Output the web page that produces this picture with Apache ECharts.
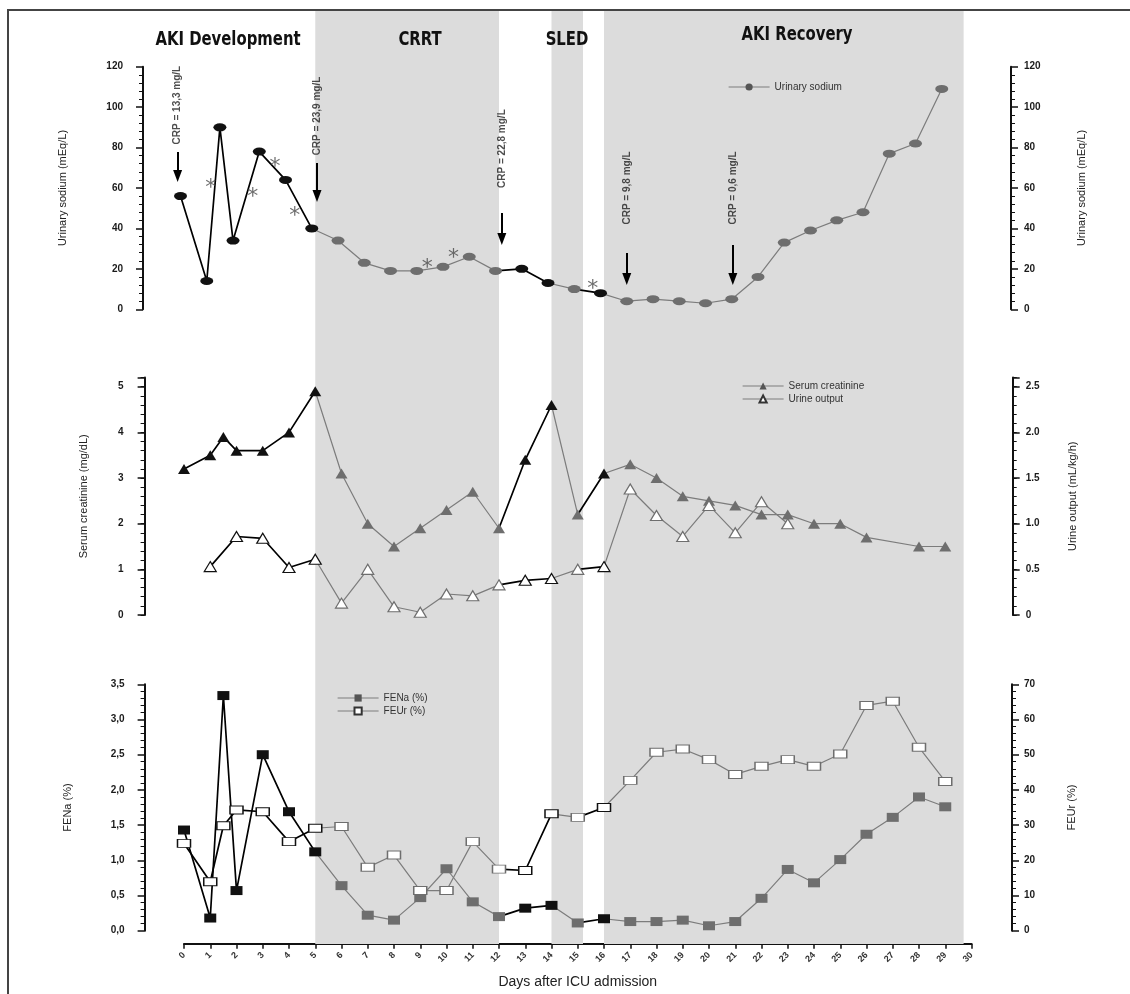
<!DOCTYPE html>
<html><head><meta charset="utf-8">
<script src="https://cdn.jsdelivr.net/npm/echarts@6/dist/echarts.min.js"></script>
<style>html,body{margin:0;padding:0;background:#fff}#c{width:1130px;height:994px}</style>
</head><body><div id="c"></div>
<script>
// ---------------- data ----------------
const phaseNames = ['CRRT', 'SLED', 'AKI Recovery'];
const phaseStart = [5, 14, 16];
const phaseEnd = [12, 15.2, 29.7];

const sodiumDays = [0,1,1.5,2,3,4,5,6,7,8,9,10,11,12,13,14,15,16,17,18,19,20,21,22,23,24,25,26,27,28,29];
const urinarySodium = [56,14,90,34,78,64,40,34,23,19,19,21,26,19,20,13,10,8,4,5,4,3,5,16,33,39,44,48,77,82,109];

const creatDays = [0,1,1.5,2,3,4,5,6,7,8,9,10,11,12,13,14,15,16,17,18,19,20,21,22,23,24,25,26,28,29];
const serumCreatinine = [3.2,3.5,3.9,3.6,3.6,4.0,4.9,3.1,2.0,1.5,1.9,2.3,2.7,1.9,3.4,4.6,2.2,3.1,3.3,3.0,2.6,2.5,2.4,2.2,2.2,2.0,2.0,1.7,1.5,1.5];

const urineDays = [1,2,3,4,5,6,7,8,9,10,11,12,13,14,15,16,17,18,19,20,21,22,23];
const urineOutput = [0.53,0.86,0.84,0.52,0.61,0.13,0.5,0.09,0.03,0.23,0.21,0.33,0.38,0.4,0.5,0.53,1.38,1.09,0.86,1.2,0.9,1.24,1.0];

const feDays = [0,1,1.5,2,3,4,5,6,7,8,9,10,11,12,13,14,15,16,17,18,19,20,21,22,23,24,25,26,27,28,29];
const fena = [1.43,0.18,3.34,0.57,2.50,1.69,1.12,0.64,0.22,0.15,0.47,0.88,0.41,0.20,0.32,0.36,0.11,0.17,0.13,0.13,0.15,0.07,0.13,0.46,0.87,0.68,1.01,1.37,1.61,1.90,1.76];
const feur = [24.8,13.9,29.8,34.3,33.8,25.3,29.1,29.6,18.0,21.5,11.4,11.4,25.3,17.5,17.1,33.2,32.2,35.0,42.7,50.7,51.6,48.6,44.4,46.7,48.6,46.7,50.2,64.0,65.2,52.1,42.4];

// day ranges drawn with dark lines, and days with dark markers
const blackSegments = [[0,5],[12,14],[15,16]];
const darkMarkerDays = [0,1,1.5,2,3,4,5,13,14,16];

// asterisks (day, urinary sodium level)
const asteriskDays = [1.15,2.75,3.6,4.35,9.4,10.4,15.7];
const asteriskVals = [63,58.6,73,48.8,23.2,28,13.1];

// CRP annotations (day, label level, arrow start / end level)
const crpDays = [-0.11,5.2,12.24,17.0,21.04];
const crpLabels = ['CRP = 13,3 mg/L','CRP = 23,9 mg/L','CRP = 22,8 mg/L','CRP = 9,8 mg/L','CRP = 0,6 mg/L'];
const crpLabelLevel = [101,95.6,79.5,60,60];
const crpArrowFrom = [77.8,72.4,47.6,27.8,31.8];
const crpArrowTo = [65.9,56.0,34.8,15.0,15.0];

// axis ranges
const dayMin = 0, dayMax = 30, topDayMin = -0.5;
const sodiumAxis = {min:0, max:120, interval:20};
const creatAxis = {min:0, max:5.2, interval:1, top:5};
const urineAxis = {min:0, max:2.6, interval:0.5, top:2.5};
const fenaAxis = {min:0, max:3.5, interval:0.5};
const feurAxis = {min:0, max:70, interval:10};

// ---------------- helpers ----------------
const DARK = '#111', GRAY = '#6e6e6e', GRAY_LINE = '#7c7c7c';
function isBlack(a, b) { return blackSegments.some(s => a >= s[0] && b <= s[1]); }
function segData(days, vals, wantBlack) {
  const out = []; let last = -1;
  for (let i = 0; i < days.length - 1; i++) {
    if (isBlack(days[i], days[i + 1]) !== wantBlack) continue;
    if (last !== i) {
      if (out.length) out.push([(days[last] + days[i]) / 2, '-']);
      out.push([days[i], vals[i]]);
    }
    out.push([days[i + 1], vals[i + 1]]);
    last = i + 1;
  }
  return out;
}
function markerColor(d) { return darkMarkerDays.includes(d) ? DARK : GRAY; }
function trio(name, days, vals, xi, yi, symbol, size, open) {
  const base = {type:'line', xAxisIndex:xi, yAxisIndex:yi, symbol:'none', silent:true, connectNulls:false, animation:false};
  return [
    Object.assign({}, base, {name: name + ' _g', z:2, lineStyle:{color:GRAY_LINE, width:1.2}, data: segData(days, vals, false)}),
    Object.assign({}, base, {name: name + ' _b', z:3, lineStyle:{color:'#000', width:1.7}, data: segData(days, vals, true)}),
    {name, type:'line', xAxisIndex:xi, yAxisIndex:yi, z:4, symbol, symbolSize:size, showAllSymbol:true, silent:true,
     lineStyle:{width:0, opacity:0},
     itemStyle: open ? {color:'#fff', borderColor:'#333', borderWidth:1} : {color:'#555'},
     data: days.map((d, i) => ({value:[d, vals[i]],
       itemStyle: open ? {color:'#fff', borderColor:markerColor(d), borderWidth:1.2} : {color:markerColor(d)}}))}
  ];
}
function yax(o) {
  return Object.assign({
    type:'value', nameLocation:'middle', nameRotate:90,
    nameTextStyle:{fontSize:11, color:'#222', fontFamily:'Liberation Sans'},
    axisLine:{show:true, onZero:false, lineStyle:{color:'#111', width:2}},
    axisTick:{show:true, length:7, lineStyle:{color:'#111', width:1.5}},
    minorTick:{show:true, splitNumber:5, length:4, lineStyle:{color:'#111', width:1}},
    splitLine:{show:false},
    axisLabel:{fontSize:10, fontWeight:'bold', color:'#1a1a1a', fontFamily:'Liberation Sans'}
  }, o);
}
const hiddenX = (gi, mn) => ({type:'value', gridIndex:gi, min:mn, max:dayMax, show:false});
const legendBase = {itemWidth:41, itemHeight:9, itemGap:3, orient:'vertical', selectedMode:false,
  textStyle:{fontSize:10, color:'#333', fontFamily:'Liberation Sans'},
  lineStyle:{color:GRAY_LINE, width:1.2, opacity:1}};
const titleFont = 'bold 19px "Liberation Sans Narrow", "DejaVu Sans Condensed", sans-serif';
const titleText = (t, x, y) => ({type:'text', x, y, scaleX:0.87, z:10,
  style:{text:t, align:'center', verticalAlign:'middle', font:titleFont, fill:'#111'}});

// ---------------- option ----------------
const option = {
  animation:false,
  backgroundColor:'#fff',
  textStyle:{fontFamily:'Liberation Sans'},
  grid:[
    {left:184, right:158.5, top:10, bottom:50},
    {left:167.4, right:162, top:66.7, height:242.6},
    {left:184, right:158.5, top:377.6, height:237.4},
    {left:184, right:158.5, top:684.3, height:246.4}
  ],
  xAxis:[
    hiddenX(0, dayMin), hiddenX(1, topDayMin), hiddenX(2, dayMin),
    {type:'value', gridIndex:3, min:dayMin, max:dayMax, interval:1, offset:13,
     axisLine:{onZero:false, lineStyle:{color:'#111', width:2}},
     axisTick:{length:5, lineStyle:{color:'#111', width:1.5}},
     splitLine:{show:false},
     axisLabel:{rotate:45, fontSize:9, fontWeight:'bold', color:'#333', margin:10},
     name:'Days after ICU admission', nameLocation:'middle', nameGap:31,
     nameTextStyle:{fontSize:14, color:'#222', fontFamily:'Liberation Sans'}}
  ],
  yAxis:[
    {type:'value', gridIndex:0, min:0, max:1, show:false},
    yax({gridIndex:1, position:'left', offset:24.4, min:sodiumAxis.min, max:sodiumAxis.max, interval:sodiumAxis.interval,
         name:'Urinary sodium (mEq/L)', nameGap:75, axisLabel:{fontSize:10, fontWeight:'bold', color:'#1a1a1a', margin:20}}),
    yax({gridIndex:1, position:'right', offset:43, min:sodiumAxis.min, max:sodiumAxis.max, interval:sodiumAxis.interval,
         name:'Urinary sodium (mEq/L)', nameGap:65, axisLabel:{fontSize:10, fontWeight:'bold', color:'#1a1a1a', margin:13}}),
    yax({gridIndex:2, position:'left', offset:39.4, min:creatAxis.min, max:creatAxis.max, interval:creatAxis.interval,
         minorTick:{show:false},
         name:'Serum creatinine (mg/dL)', nameGap:55,
         axisLabel:{fontSize:10, fontWeight:'bold', color:'#1a1a1a', margin:21, formatter:v => v > creatAxis.top ? '' : String(v)}}),
    yax({gridIndex:2, position:'right', offset:41.2, min:urineAxis.min, max:urineAxis.max, interval:urineAxis.interval,
         minorTick:{show:false},
         name:'Urine output (mL/kg/h)', nameGap:55,
         axisLabel:{fontSize:10, fontWeight:'bold', color:'#1a1a1a', margin:13,
                    formatter:v => v > urineAxis.top ? '' : (v === 0 ? '0' : v.toFixed(1))}}),
    yax({gridIndex:3, position:'left', offset:39.4, min:fenaAxis.min, max:fenaAxis.max, interval:fenaAxis.interval,
         name:'FENa (%)', nameGap:71,
         axisLabel:{fontSize:10, fontWeight:'bold', color:'#1a1a1a', margin:20, formatter:v => v.toFixed(1).replace('.', ',')}}),
    yax({gridIndex:3, position:'right', offset:40.5, min:feurAxis.min, max:feurAxis.max, interval:feurAxis.interval,
         name:'FEUr (%)', nameGap:54, axisLabel:{fontSize:10, fontWeight:'bold', color:'#1a1a1a', margin:12}}),
    // fine ticks for the middle panel
    {type:'value', gridIndex:2, position:'left', offset:39.4, min:creatAxis.min, max:creatAxis.max, interval:0.2,
     axisLine:{show:false, onZero:false}, axisLabel:{show:false}, splitLine:{show:false},
     axisTick:{show:true, length:4, lineStyle:{color:'#111', width:1}}},
    {type:'value', gridIndex:2, position:'right', offset:41.2, min:urineAxis.min, max:urineAxis.max, interval:0.1,
     axisLine:{show:false, onZero:false}, axisLabel:{show:false}, splitLine:{show:false},
     axisTick:{show:true, length:4, lineStyle:{color:'#111', width:1}}}
  ],
  legend:[
    Object.assign({}, legendBase, {data:['Urinary sodium'], left:723, top:77}),
    Object.assign({}, legendBase, {data:['Serum creatinine','Urine output'], left:737, top:376}),
    Object.assign({}, legendBase, {data:['FENa (%)','FEUr (%)'], left:332, top:688})
  ],
  graphic:[
    {type:'polyline', shape:{points:[[8,994],[8,10],[1130,10]]}, style:{stroke:'#444', lineWidth:2, fill:null}, z:10},
    titleText('AKI Development', 228, 40),
    titleText('CRRT', 420, 40),
    titleText('SLED', 567, 40),
    titleText('AKI Recovery', 797, 35)
  ],
  series:[
    {type:'line', name:'phases', xAxisIndex:0, yAxisIndex:0, z:0, silent:true, symbol:'none',
     lineStyle:{opacity:0}, data:[[0,0]],
     markArea:{silent:true, itemStyle:{color:'#dcdcdc'}, label:{show:false},
       data: phaseNames.map((n, i) => [{name:n, xAxis:phaseStart[i]}, {xAxis:phaseEnd[i]}])}},
    ...trio('Urinary sodium', sodiumDays, urinarySodium, 1, 1, 'circle', [13, 8], false),
    ...trio('Serum creatinine', creatDays, serumCreatinine, 2, 3, 'triangle', [12, 10], false),
    ...trio('Urine output', urineDays, urineOutput, 2, 4, 'triangle', [12, 10], true),
    ...trio('FENa (%)', feDays, fena, 3, 5, 'rect', [12, 9], false),
    ...trio('FEUr (%)', feDays, feur, 3, 6, 'rect', [13, 8], true),
    {type:'scatter', name:'asterisks', xAxisIndex:1, yAxisIndex:1, silent:true, z:6, symbolSize:1,
     itemStyle:{color:'rgba(0,0,0,0)'},
     label:{show:true, position:'inside', formatter:'*', fontSize:22, color:'#4a4a4a', fontFamily:'DejaVu Sans', offset:[0,6]},
     data: asteriskDays.map((d, i) => [d, asteriskVals[i]])},
    {type:'scatter', name:'CRP', xAxisIndex:1, yAxisIndex:1, silent:true, clip:false, z:6, symbolSize:1,
     itemStyle:{color:'rgba(0,0,0,0)'},
     label:{show:true, position:'inside', rotate:90, formatter:p => p.name, fontSize:10, fontWeight:'bold', color:'#222'},
     data: crpDays.map((d, i) => ({name:crpLabels[i], value:[d, crpLabelLevel[i]]})),
     markLine:{silent:true, symbol:['none','triangle'], symbolSize:[9,12], label:{show:false},
       lineStyle:{color:'#000', width:2, type:'solid'},
       data: crpDays.map((d, i) => [{coord:[d, crpArrowFrom[i]]}, {coord:[d, crpArrowTo[i]]}])}}
  ]
};
const chart = echarts.init(document.getElementById('c'));
chart.setOption(option);
</script></body></html>
